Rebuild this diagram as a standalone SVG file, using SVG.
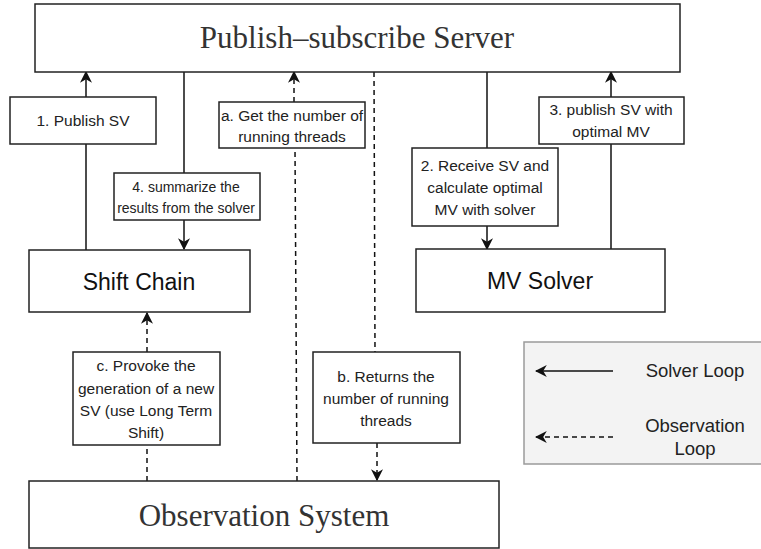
<svg xmlns="http://www.w3.org/2000/svg" width="761" height="549" viewBox="0 0 761 549">
  <style>
    .box { fill: #ffffff; stroke: #222222; stroke-width: 1.5; }
    .lbl { font-family: "Liberation Sans", Arial, sans-serif; font-size: 15.5px; fill: #222222; text-anchor: middle; }
    .sm { font-size: 14px; }
    .leg { font-family: "Liberation Sans", Arial, sans-serif; font-size: 18.5px; fill: #222222; text-anchor: middle; }
    .big { font-family: "Liberation Sans", Arial, sans-serif; font-size: 23px; fill: #111111; text-anchor: middle; }
    .serif { font-family: "Liberation Serif", "Times New Roman", serif; font-size: 31px; fill: #333333; text-anchor: middle; }
    .solid { fill: none; stroke: #111111; stroke-width: 1.5; }
    .dash { fill: none; stroke: #111111; stroke-width: 1.5; stroke-dasharray: 5 4; }
  </style>
  <defs>
    <marker id="arrow" viewBox="0 0 10 10" refX="9" refY="5" markerWidth="12" markerHeight="12" markerUnits="userSpaceOnUse" orient="auto">
      <path d="M0,0 L10,5 L0,10 L3,5 Z" fill="#111111"/>
    </marker>
  </defs>

  <rect width="761" height="549" fill="#ffffff"/>

  <!-- connectors -->
  <g id="connectors">
    <!-- 1. Publish SV -->
    <line class="solid" x1="86" y1="250" x2="86" y2="144"/>
    <line class="solid" x1="86" y1="97" x2="86" y2="72" marker-end="url(#arrow)"/>
    <!-- 4. summarize -->
    <line class="solid" x1="184" y1="72" x2="184" y2="173"/>
    <line class="solid" x1="184" y1="220" x2="184" y2="249" marker-end="url(#arrow)"/>
    <!-- 2. Receive SV -->
    <line class="solid" x1="487" y1="72" x2="487" y2="148"/>
    <line class="solid" x1="487" y1="226" x2="487" y2="249" marker-end="url(#arrow)"/>
    <!-- 3. publish SV with optimal MV -->
    <line class="solid" x1="611" y1="249" x2="611" y2="144"/>
    <line class="solid" x1="611" y1="97" x2="611" y2="72" marker-end="url(#arrow)"/>
    <!-- a. Get the number -->
    <line class="dash" x1="297" y1="481" x2="295" y2="148"/>
    <line class="dash" x1="294" y1="102" x2="294" y2="72" marker-end="url(#arrow)"/>
    <!-- b. Returns -->
    <line class="dash" x1="374" y1="72" x2="375" y2="352"/>
    <line class="dash" x1="377" y1="443" x2="377" y2="480" marker-end="url(#arrow)"/>
    <!-- c. Provoke -->
    <line class="dash" x1="147" y1="481" x2="147" y2="445"/>
    <line class="dash" x1="147" y1="352" x2="147" y2="313" marker-end="url(#arrow)"/>
  </g>

  <g id="server">
    <rect class="box" x="35" y="4" width="645" height="68"/>
    <text class="serif" x="357" y="48">Publish–subscribe Server</text>
  </g>

  <g id="shift-chain">
    <rect class="box" x="29" y="250" width="221" height="62"/>
    <text class="big" x="139" y="290">Shift Chain</text>
  </g>

  <g id="mv-solver">
    <rect class="box" x="416" y="249" width="249" height="63"/>
    <text class="big" x="540" y="289">MV Solver</text>
  </g>

  <g id="observation-system">
    <rect class="box" x="29" y="481" width="470" height="67"/>
    <text class="serif" x="264" y="526">Observation System</text>
  </g>

  <g id="label-1">
    <rect class="box" x="10" y="97" width="146" height="47"/>
    <text class="lbl" x="83" y="126">1. Publish SV</text>
  </g>

  <g id="label-4">
    <rect class="box" x="114" y="173" width="146" height="47"/>
    <text class="lbl sm" x="186" y="192">4. summarize the</text>
    <text class="lbl sm" x="186" y="213">results from the solver</text>
  </g>

  <g id="label-a">
    <rect class="box" x="219" y="102" width="146" height="46"/>
    <text class="lbl" x="292" y="121">a. Get the number of</text>
    <text class="lbl" x="292" y="142">running threads</text>
  </g>

  <g id="label-2">
    <rect class="box" x="412" y="148" width="146" height="78"/>
    <text class="lbl" x="485" y="171">2. Receive SV and</text>
    <text class="lbl" x="485" y="193">calculate optimal</text>
    <text class="lbl" x="485" y="215">MV with solver</text>
  </g>

  <g id="label-3">
    <rect class="box" x="539" y="97" width="145" height="47"/>
    <text class="lbl" x="611" y="115">3. publish SV with</text>
    <text class="lbl" x="611" y="137">optimal MV</text>
  </g>

  <g id="label-c">
    <rect class="box" x="73" y="352" width="147" height="93"/>
    <text class="lbl" x="146" y="371">c. Provoke the</text>
    <text class="lbl" x="146" y="394">generation of a new</text>
    <text class="lbl" x="146" y="416">SV (use Long Term</text>
    <text class="lbl" x="146" y="438">Shift)</text>
  </g>

  <g id="label-b">
    <rect class="box" x="313" y="352" width="147" height="91"/>
    <text class="lbl" x="386" y="382">b. Returns the</text>
    <text class="lbl" x="386" y="404">number of running</text>
    <text class="lbl" x="386" y="426">threads</text>
  </g>

  <g id="legend">
    <rect x="524" y="342" width="240" height="122" fill="#f3f3f3" stroke="#9a9a9a" stroke-width="1.5"/>
    <line class="solid" x1="613" y1="371" x2="536" y2="371" marker-end="url(#arrow)"/>
    <text class="leg" x="695" y="377">Solver Loop</text>
    <line class="dash" x1="613" y1="437" x2="536" y2="437" marker-end="url(#arrow)"/>
    <text class="leg" x="695" y="432">Observation</text>
    <text class="leg" x="695" y="455">Loop</text>
  </g>
</svg>
